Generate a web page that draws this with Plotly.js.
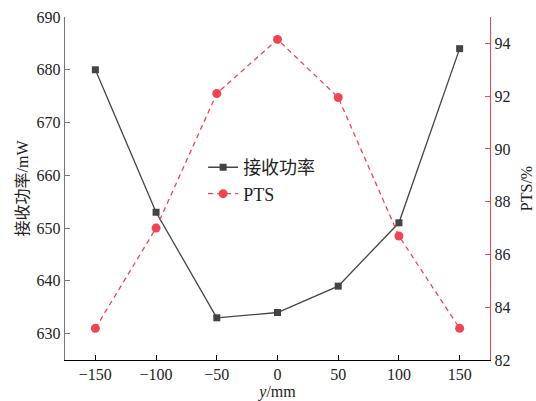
<!DOCTYPE html>
<html><head><meta charset="utf-8">
<script src="https://cdn.plot.ly/plotly-3.0.1.min.js"></script>
<style>html,body{margin:0;padding:0;background:#fff}#c{width:536px;height:401px}</style>
</head><body><div id="c"></div>
<script>
const yPos = [-150, -100, -50, 0, 50, 100, 150];
const power = [680, 653, 633, 634, 639, 651, 684];
const pts = [83.2, 87.0, 92.1, 94.15, 91.95, 86.7, 83.2];
const xTicks = [-150, -100, -50, 0, 50, 100, 150];

const FONT = "Liberation Serif, 'Times New Roman', 'Noto Sans CJK SC', serif";
const RED = '#ef4452';

const traces = [
  {x: yPos, y: power, name: '接收功率', type: 'scatter', mode: 'lines+markers',
   line: {color: '#444444', width: 1.3}, marker: {symbol: 'square', size: 7, color: '#444444'}},
  {x: yPos, y: pts, name: 'PTS', type: 'scatter', mode: 'lines+markers', yaxis: 'y2',
   line: {color: RED, width: 1.3, dash: '5px,4px'}, marker: {symbol: 'circle', size: 9, color: RED}}
];

const layout = {
  width: 536, height: 401,
  margin: {l: 65, r: 46, t: 17, b: 41},
  paper_bgcolor: '#fff', plot_bgcolor: '#fff',
  font: {family: FONT, size: 16, color: '#222'},
  showlegend: true,
  legend: {x: 0.325, y: 0.615, xanchor: 'left', yanchor: 'top', bgcolor: 'rgba(0,0,0,0)',
           font: {family: FONT, size: 18, color: '#222'}, tracegroupgap: 0},
  xaxis: {range: [-175, 175], tickvals: xTicks, ticks: 'inside', ticklen: 5, tickcolor: '#000',
          showline: true, linecolor: '#000', linewidth: 1.2, showgrid: false, zeroline: false,
          tickfont: {size: 16}, title: {text: '<i>y</i>/mm', font: {size: 16}, standoff: 2}},
  yaxis: {range: [625, 690], dtick: 10, ticks: 'inside', ticklen: 5, tickcolor: '#777',
          showline: true, linecolor: '#777', linewidth: 1.2, showgrid: false, zeroline: false,
          tickfont: {size: 16}, title: {text: '接收功率/mW', font: {size: 16}, standoff: 4}},
  yaxis2: {range: [82, 95], dtick: 2, overlaying: 'y', side: 'right', ticks: 'inside', ticklen: 5,
           tickcolor: RED, showline: true, linecolor: RED, linewidth: 1.2, showgrid: false, zeroline: false,
           tickfont: {size: 16, color: '#222'}, title: {text: 'PTS/%', font: {size: 16}, standoff: 11}}
};
Plotly.newPlot('c', traces, layout, {staticPlot: true});
</script></body></html>
